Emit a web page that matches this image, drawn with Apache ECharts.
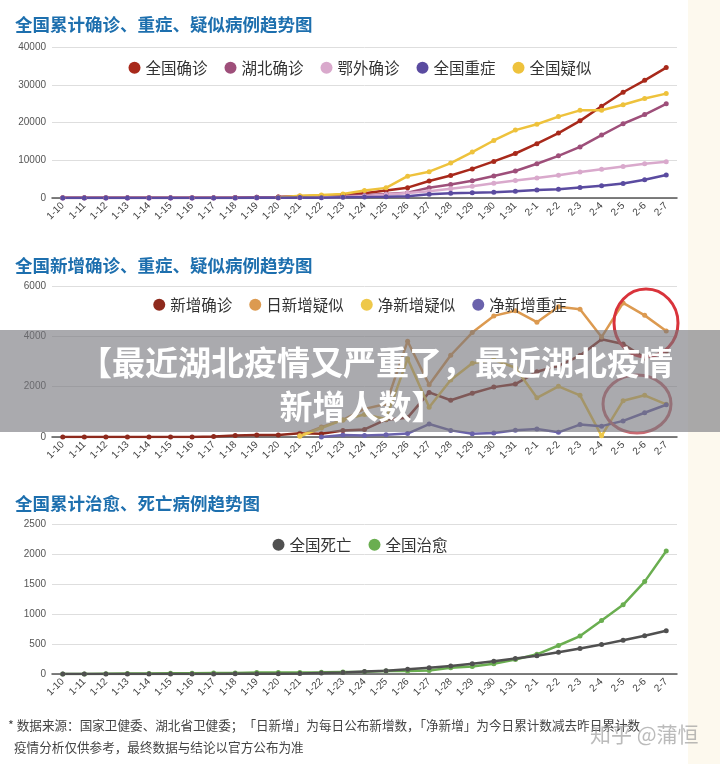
<!DOCTYPE html>
<html lang="zh">
<head>
<meta charset="UTF-8">
<title>疫情趋势图</title>
<script src="https://cdn.jsdelivr.net/npm/echarts@6/dist/echarts.min.js"></script>
<style>
  html, body { margin: 0; padding: 0; background: #fff; }
  #main { width: 720px; height: 764px; }
</style>
</head>
<body>
<div id="main"></div>
<script>
// 日期
var dates = ['1-10','1-11','1-12','1-13','1-14','1-15','1-16','1-17','1-18','1-19','1-20','1-21','1-22','1-23','1-24','1-25','1-26','1-27','1-28','1-29','1-30','1-31','2-1','2-2','2-3','2-4','2-5','2-6','2-7'];

// 图一：累计
var cumConfirmed = [41,41,41,41,41,41,45,62,121,198,291,440,571,830,1287,1975,2744,4515,5974,7711,9692,11791,14380,17205,20438,24324,28018,31161,34546];
var hubeiConfirmed = [41,41,41,41,41,41,45,62,121,198,270,375,444,549,729,1052,1423,2714,3554,4586,5806,7153,9074,11177,13522,16678,19665,22112,24953];
var outsideConfirmed = [0,0,0,0,0,0,0,0,0,0,21,65,127,281,558,923,1321,1801,2420,3125,3886,4638,5306,6028,6916,7646,8353,9049,9593];
var cumSevere = [7,7,7,7,7,5,5,5,8,35,51,102,95,177,237,324,461,976,1239,1370,1527,1795,2110,2296,2788,3219,3859,4821,6101];
var cumSuspected = [null,null,null,null,null,null,null,null,null,null,150,600,800,1072,1965,2684,5794,6973,9239,12167,15238,17988,19544,21558,23214,23260,24702,26359,27657];

// 图二：新增
var newConfirmed = [0,0,0,0,0,0,4,17,59,77,77,149,131,259,300,688,769,1771,1459,1737,1982,2102,2590,2829,3235,3887,3694,3143,3399];
var dailySuspected = [null,null,null,null,null,null,null,null,null,null,null,60,393,680,1118,1309,3806,2077,3248,4148,4812,5019,4562,5173,5072,3971,5328,4833,4214];
var netSuspected = [null,null,null,null,null,null,null,null,null,null,null,30,356,679,893,719,3110,1179,2266,2928,3071,2750,1556,2014,1656,46,1442,1657,1298];
var netSevere = [null,null,null,null,null,null,null,null,null,null,null,null,0,82,60,87,137,515,263,131,157,268,315,186,492,431,640,962,1280];

// 图三：治愈、死亡
var deaths = [1,1,1,1,1,2,2,2,3,3,6,9,17,25,41,56,80,106,132,170,213,259,304,361,425,490,563,636,722];
var recovered = [2,2,6,7,7,12,12,15,17,25,25,25,28,34,38,49,51,60,103,124,171,243,328,475,632,892,1153,1540,2050];

var chart = echarts.init(document.getElementById('main'));

var titleStyle = { color: '#1d6fae', fontSize: 17.5, fontWeight: 'bold', fontFamily: 'Noto Sans CJK SC' };
var legendText = { color: '#333', fontSize: 15.5, fontFamily: 'Noto Sans CJK SC' };

function xAxis(idx) {
    return {
        type: 'category', gridIndex: idx, data: dates,
        axisLine: { lineStyle: { color: '#555', width: 1.5 } },
        axisTick: { show: false },
        axisLabel: { rotate: 45, fontSize: 10, color: '#444', interval: 0, margin: 6 }
    };
}
function yAxis(idx, max, step) {
    return {
        type: 'value', gridIndex: idx, min: 0, max: max, interval: step,
        axisLine: { show: false }, axisTick: { show: false },
        axisLabel: { fontSize: 10, color: '#555', margin: 6, formatter: function (v) { return String(v); } },
        splitLine: { lineStyle: { color: '#dedede' } }
    };
}
function line(name, data, color, idx) {
    return {
        name: name, type: 'line', data: data, xAxisIndex: idx, yAxisIndex: idx,
        symbol: 'circle', symbolSize: 5, connectNulls: false,
        lineStyle: { color: color, width: 2.5 },
        itemStyle: { color: color }
    };
}
function legend(items, top) {
    return { data: items, left: 'center', top: top, icon: 'circle', itemWidth: 12, itemHeight: 12, itemGap: 17, textStyle: legendText };
}

chart.setOption({
    backgroundColor: '#fdf9ee',
    animation: false,
    title: [
        { text: '全国累计确诊、重症、疑似病例趋势图', left: 10, top: 11, textStyle: titleStyle },
        { text: '全国新增确诊、重症、疑似病例趋势图', left: 10, top: 252, textStyle: titleStyle },
        { text: '全国累计治愈、死亡病例趋势图', left: 10, top: 490, textStyle: titleStyle }
    ],
    legend: [
        legend(['全国确诊','湖北确诊','鄂外确诊','全国重症','全国疑似'], 55),
        legend(['新增确诊','日新增疑似','净新增疑似','净新增重症'], 292),
        legend(['全国死亡','全国治愈'], 532)
    ],
    grid: [
        { left: 52, right: 43, top: 47, height: 151 },
        { left: 52, right: 43, top: 286, height: 151 },
        { left: 52, right: 43, top: 524, height: 150 }
    ],
    xAxis: [xAxis(0), xAxis(1), xAxis(2)],
    yAxis: [yAxis(0, 40000, 10000), yAxis(1, 6000, 2000), yAxis(2, 2500, 500)],
    series: [
        line('全国确诊', cumConfirmed, '#a8291b', 0),
        line('湖北确诊', hubeiConfirmed, '#9e4f7a', 0),
        line('鄂外确诊', outsideConfirmed, '#d9a9cc', 0),
        line('全国疑似', cumSuspected, '#eec23c', 0),
        line('全国重症', cumSevere, '#5a4ba0', 0),

        line('新增确诊', newConfirmed, '#8e2a1d', 1),
        line('日新增疑似', dailySuspected, '#dc9a50', 1),
        line('净新增疑似', netSuspected, '#eec84a', 1),
        line('净新增重症', netSevere, '#6a62ac', 1),

        line('全国治愈', recovered, '#6aae50', 2),
        line('全国死亡', deaths, '#505050', 2)
    ],
    graphic: [
        { type: 'rect', z: -10, shape: { x: 0, y: 0, width: 688, height: 764 }, style: { fill: '#ffffff' } },
        // 红圈
        { type: 'ellipse', z: 50, shape: { cx: 646, cy: 323, rx: 32, ry: 34 }, style: { fill: 'none', stroke: '#d9333b', lineWidth: 3 } },
        { type: 'ellipse', z: 50, shape: { cx: 637, cy: 404, rx: 34, ry: 29 }, style: { fill: 'none', stroke: '#c96a72', lineWidth: 3 } },
        // 灰色横幅
        { type: 'rect', z: 100, shape: { x: 0, y: 330, width: 720, height: 102 }, style: { fill: 'rgba(118,118,124,0.62)' } },
        { type: 'text', z: 101, style: { text: '【最近湖北疫情又严重了，最近湖北疫情', x: 376, y: 362, align: 'center', verticalAlign: 'middle', fill: '#fff', font: 'bold 33px "Noto Sans CJK SC"' } },
        { type: 'text', z: 101, style: { text: '新增人数】', x: 362, y: 406, align: 'center', verticalAlign: 'middle', fill: '#fff', font: 'bold 33px "Noto Sans CJK SC"' } },
        // 注释
        { type: 'text', z: 20, style: { text: '* 数据来源：国家卫健委、湖北省卫健委；「日新增」为每日公布新增数，「净新增」为今日累计数减去昨日累计数', x: 8, y: 725, verticalAlign: 'middle', fill: '#444', font: '12.6px "Noto Sans CJK SC"' } },
        { type: 'text', z: 20, style: { text: '疫情分析仅供参考，最终数据与结论以官方公布为准', x: 14, y: 747, verticalAlign: 'middle', fill: '#444', font: '12.6px "Noto Sans CJK SC"' } },
        { type: 'text', z: 30, style: { text: '知乎 @蒲恒', x: 590, y: 734, verticalAlign: 'middle', fill: 'rgba(150,150,150,0.65)', font: '21px "Noto Sans CJK SC"' } }
    ]
});
</script>
</body>
</html>
